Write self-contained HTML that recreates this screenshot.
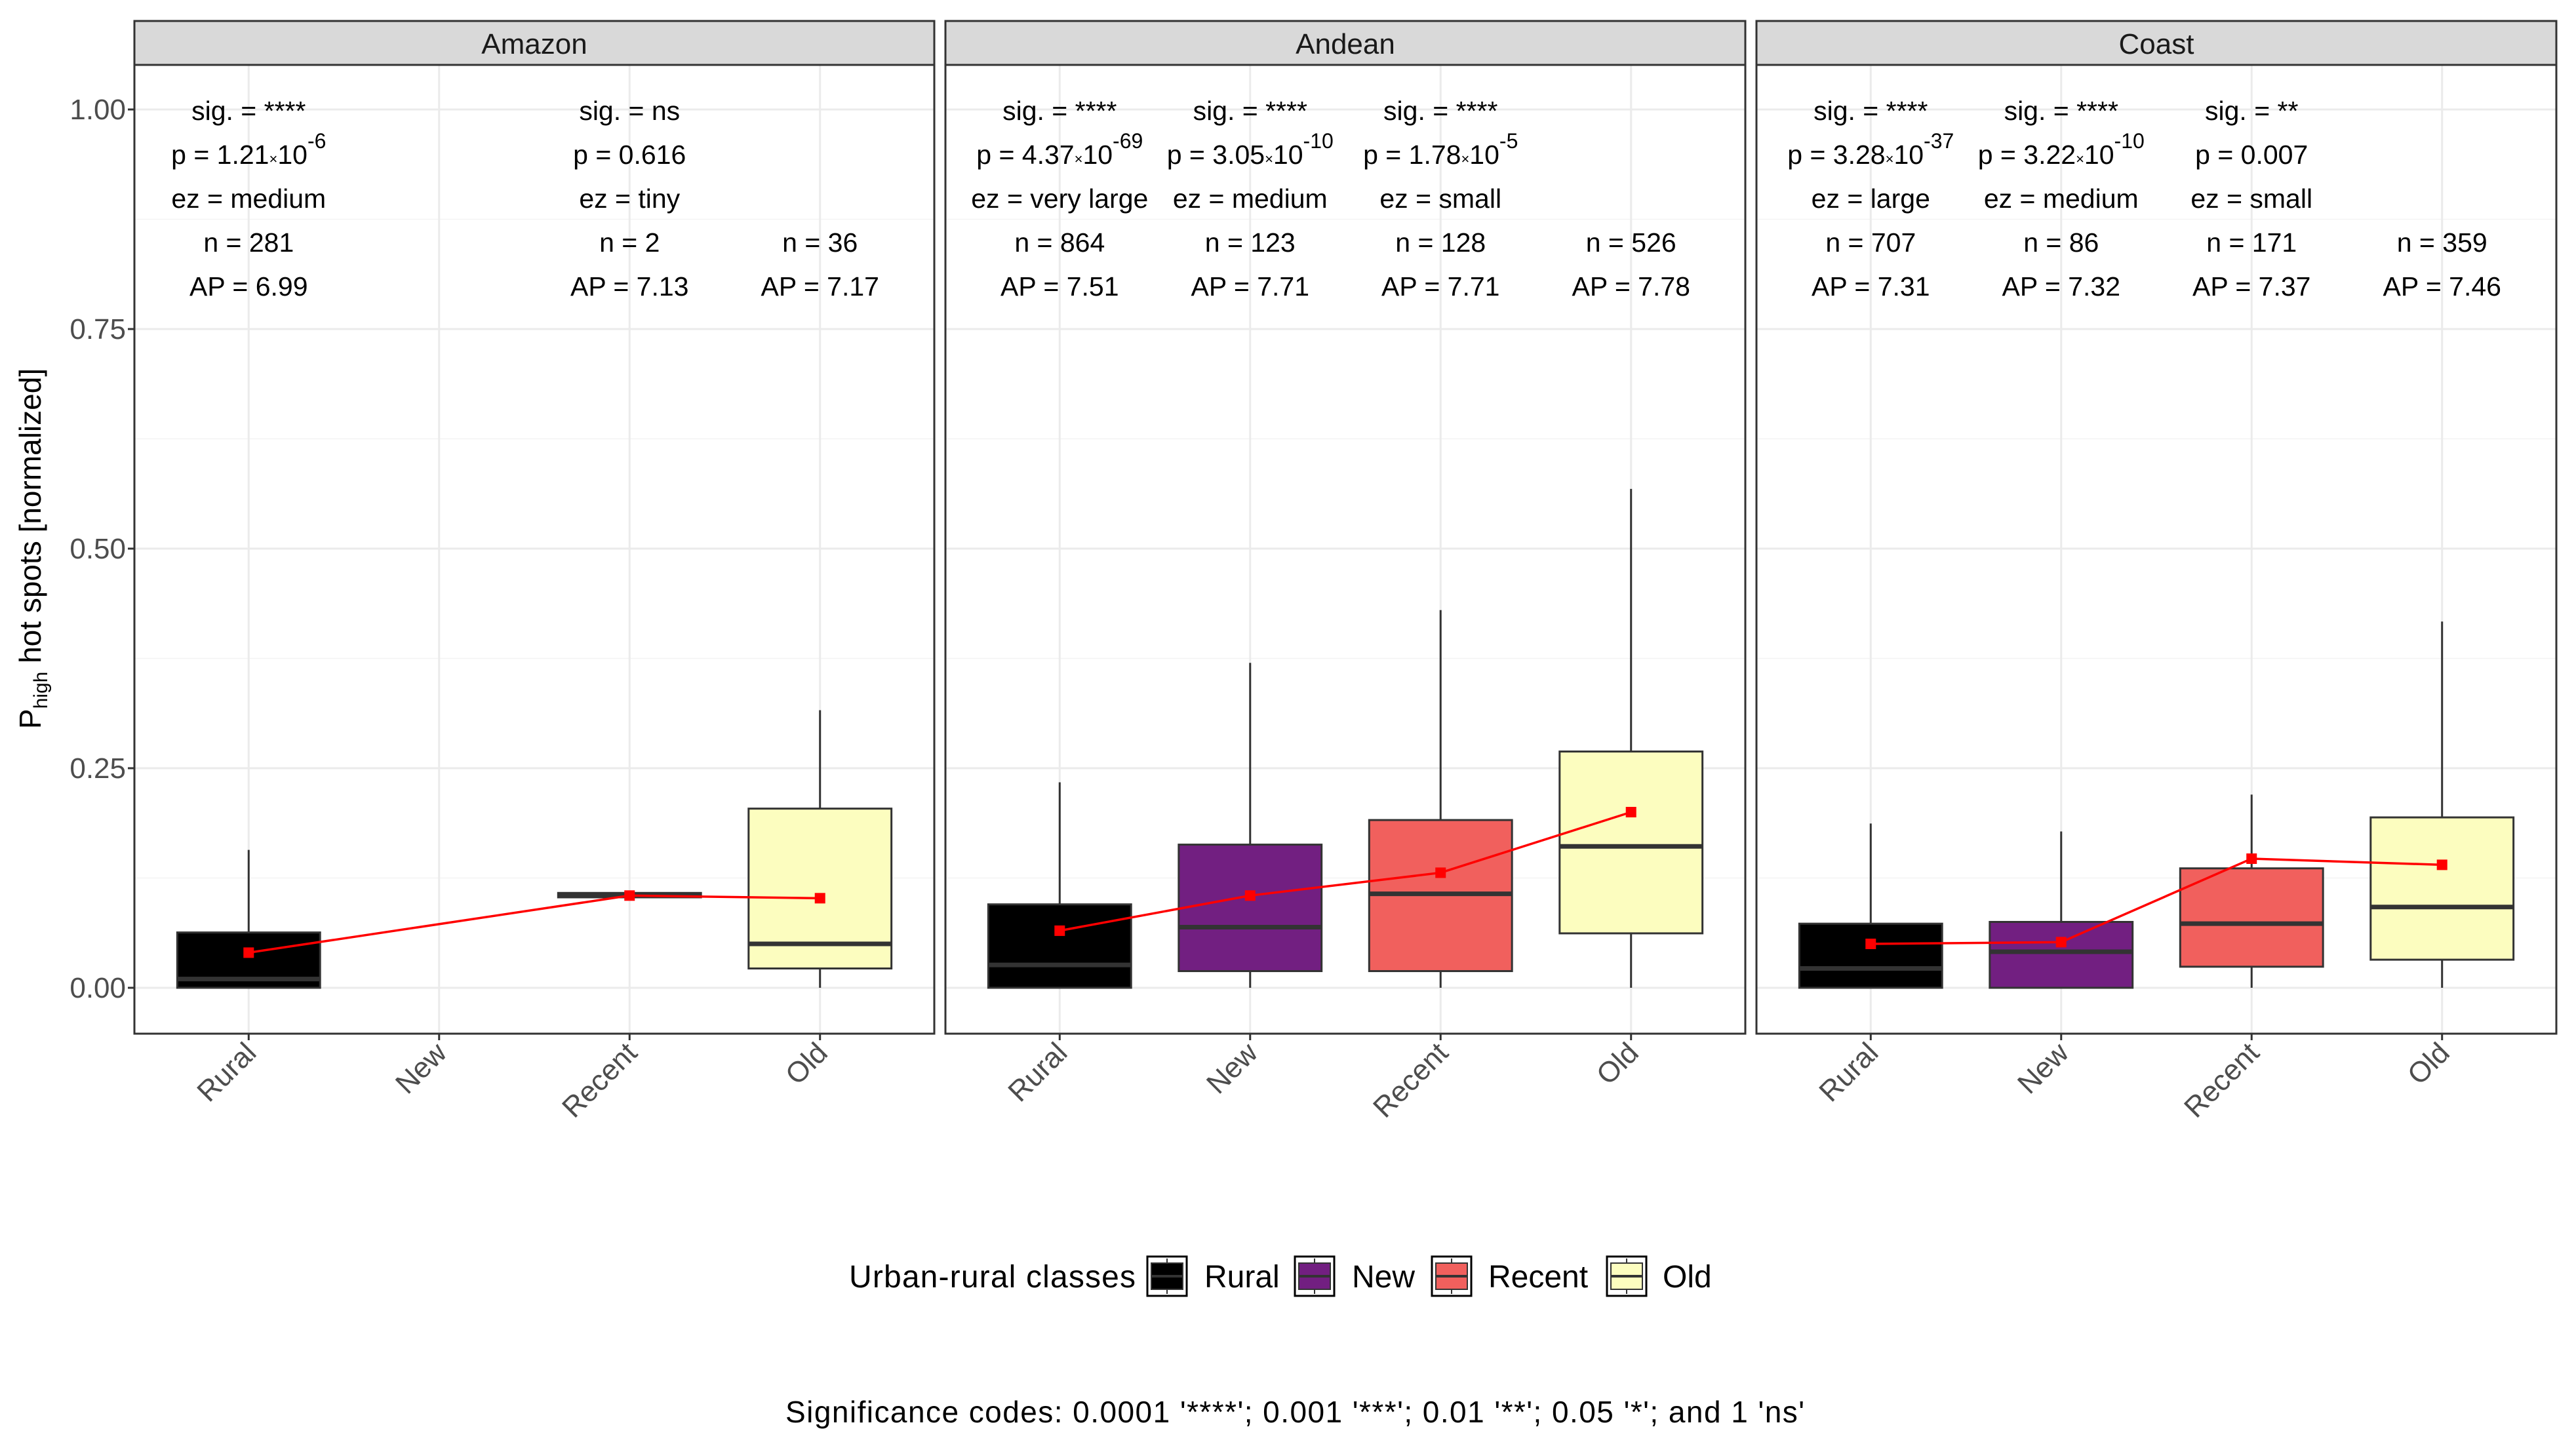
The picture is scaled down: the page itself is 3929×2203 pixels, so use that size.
<!DOCTYPE html>
<html><head><meta charset="utf-8"><style>
html,body{margin:0;padding:0;background:#fff}
svg{display:block;font-family:"Liberation Sans",Arial,sans-serif}
</style></head><body>
<svg id="chart" width="3929" height="2203" viewBox="0 0 3929 2203" xmlns="http://www.w3.org/2000/svg">
<g id="root"></g>
</svg>
<script>
const regions = ["Amazon","Andean","Coast"];
const categories = ["Rural","New","Recent","Old"];
const colors = ["#000000","#721f81","#f1605d","#fcfdbf"];
const yTicks = [0,0.25,0.5,0.75,1.0];
const yTickLabels = ["0.00","0.25","0.50","0.75","1.00"];
// per region, per category: [whiskerLow, q1, median, q3, whiskerHigh, mean] (null = no data)
const amazonStats = [[0,0,0.01,0.063,0.157,0.040], null, [0.103,0.103,0.105,0.108,0.108,0.105], [0,0.022,0.050,0.204,0.316,0.102]];
const andeanStats = [[0,0,0.026,0.095,0.234,0.065],[0,0.019,0.069,0.163,0.37,0.105],[0,0.019,0.107,0.191,0.43,0.131],[0,0.062,0.161,0.269,0.568,0.200]];
const coastStats  = [[0,0,0.022,0.073,0.187,0.050],[0,0,0.041,0.075,0.178,0.052],[0,0.024,0.073,0.136,0.22,0.147],[0,0.032,0.092,0.194,0.417,0.140]];
const amazonSig = ["****",null,"ns",null];
const amazonP = [["1.21","-6"],null,["0.616",null],null];
const amazonEz = ["medium",null,"tiny",null];
const amazonN = ["281",null,"2","36"];
const amazonAP = ["6.99",null,"7.13","7.17"];
const andeanSig = ["****","****","****",null];
const andeanP = [["4.37","-69"],["3.05","-10"],["1.78","-5"],null];
const andeanEz = ["very large","medium","small",null];
const andeanN = ["864","123","128","526"];
const andeanAP = ["7.51","7.71","7.71","7.78"];
const coastSig = ["****","****","**",null];
const coastP = [["3.28","-37"],["3.22","-10"],["0.007",null],null];
const coastEz = ["large","medium","small",null];
const coastN = ["707","86","171","359"];
const coastAP = ["7.31","7.32","7.37","7.46"];

const stats=[amazonStats,andeanStats,coastStats];
const sigs=[amazonSig,andeanSig,coastSig], ps=[amazonP,andeanP,coastP], ezs=[amazonEz,andeanEz,coastEz], ns=[amazonN,andeanN,coastN], aps=[amazonAP,andeanAP,coastAP];

const SVGNS="http://www.w3.org/2000/svg";
const rootG=document.getElementById('root');
function mk(tag,attrs,parent,text){const e=document.createElementNS(SVGNS,tag);for(const k in attrs)e.setAttribute(k,attrs[k]);if(text!=null)e.textContent=text;(parent||rootG).appendChild(e);return e;}
const panelW=1220, gap=17, left0=205, pTop=99, pBottom=1577, stripTop=32;
const unit=panelW/4.2;
function px(p,i){return left0+p*(panelW+gap)+(0.6+i)*unit;}
function yS(v){return 1507-1340*v;}
const bw=0.75*unit;

yTicks.forEach((t,i)=>{
  const tl=mk('text',{x:192,y:yS(t)+15,'text-anchor':'end','font-size':44,fill:'#4d4d4d'},rootG,yTickLabels[i]);
  
  
  const tk=mk('line',{x1:195,x2:205,y1:yS(t),y2:yS(t),stroke:'#333',"stroke-width":3});
  
  
});
const yt=mk('text',{transform:'translate(62,837) rotate(-90)','text-anchor':'middle','font-size':46,fill:'#000'},rootG);


mk('tspan',{},yt,'P');
mk('tspan',{'font-size':30,dy:10},yt,'high');
mk('tspan',{dy:-10},yt,' hot spots [normalized]');

regions.forEach((r,p)=>{
  const L=left0+p*(panelW+gap);
  const pg=mk('g',{});
  
  
  mk('rect',{x:L,y:pTop,width:panelW,height:pBottom-pTop,fill:'#fff'},pg);
  [0.125,0.375,0.625,0.875].forEach(t=>mk('line',{x1:L,x2:L+panelW,y1:yS(t),y2:yS(t),stroke:'#f3f3f3','stroke-width':1.5},pg));
  yTicks.forEach(t=>mk('line',{x1:L,x2:L+panelW,y1:yS(t),y2:yS(t),stroke:'#ebebeb','stroke-width':3},pg));
  categories.forEach((c,i)=>mk('line',{x1:px(p,i),x2:px(p,i),y1:pTop,y2:pBottom,stroke:'#ebebeb','stroke-width':3},pg));
  const st=mk('rect',{x:L,y:stripTop,width:panelW,height:pTop-stripTop,fill:'#d9d9d9',stroke:'#333','stroke-width':3},pg);
  
  
  mk('text',{x:L+panelW/2,y:82,'text-anchor':'middle','font-size':44,fill:'#1a1a1a'},pg,r);
  stats[p].forEach((s,i)=>{
    if(!s)return;
    const x=px(p,i);
    const bg=mk('g',{},pg);
    
    
    mk('line',{x1:x,x2:x,y1:yS(s[0]),y2:yS(s[1]),stroke:'#333','stroke-width':3},bg);
    mk('line',{x1:x,x2:x,y1:yS(s[3]),y2:yS(s[4]),stroke:'#333','stroke-width':3},bg);
    mk('rect',{x:x-bw/2,y:yS(s[3]),width:bw,height:Math.max(yS(s[1])-yS(s[3]),1),fill:colors[i],stroke:'#333','stroke-width':3},bg);
    mk('line',{x1:x-bw/2,x2:x+bw/2,y1:yS(s[2]),y2:yS(s[2]),stroke:'#333','stroke-width':7},bg);
  });
  const pts=[];stats[p].forEach((s,i)=>{if(s)pts.push([px(p,i),yS(s[5])]);});
  const ml=mk('polyline',{points:pts.map(q=>q.join(',')).join(' '),fill:'none',stroke:'#ff0000','stroke-width':3.5},pg);
  
  
  pts.forEach(q=>{const m=mk('rect',{x:q[0]-8,y:q[1]-8,width:16,height:16,fill:'#ff0000'},pg);
    
    });
  const rows=[169,236,303,370,437];
  categories.forEach((c,i)=>{
    const x=px(p,i);
    const ag=mk('g',{'font-size':41,fill:'#000','text-anchor':'middle'},pg);
    
    
    if(sigs[p][i]!=null)mk('text',{x:x,y:rows[0]+14},ag,'sig. = '+sigs[p][i]);
    const pv=ps[p][i];
    if(pv){
      const t=mk('text',{x:x,y:rows[1]+14},ag);
      if(pv[1]){mk('tspan',{},t,'p = '+pv[0]);mk('tspan',{'font-size':22},t,'×');mk('tspan',{},t,'10');mk('tspan',{'font-size':32,dy:-24},t,pv[1]);}
      else t.textContent='p = '+pv[0];
    }
    if(ezs[p][i]!=null)mk('text',{x:x,y:rows[2]+14},ag,'ez = '+ezs[p][i]);
    if(ns[p][i]!=null)mk('text',{x:x,y:rows[3]+14},ag,'n = '+ns[p][i]);
    if(aps[p][i]!=null)mk('text',{x:x,y:rows[4]+14},ag,'AP = '+aps[p][i]);
  });
  mk('rect',{x:L,y:pTop,width:panelW,height:pBottom-pTop,fill:'none',stroke:'#333','stroke-width':3},pg);
  categories.forEach((c,i)=>{
    const x=px(p,i);
    mk('line',{x1:x,x2:x,y1:pBottom,y2:pBottom+10,stroke:'#333','stroke-width':3},pg);
    const xl=mk('text',{transform:`translate(${x+14},${pBottom+32}) rotate(-45)`,'text-anchor':'end','font-size':44,fill:'#4d4d4d'},pg,c);
    
    
  });
});

const lg=mk('g',{});


mk('text',{x:1295,y:1964,'font-size':48,fill:'#000',textLength:437},lg,'Urban-rural classes');
const keyX=[1750,1975,2184,2451], labX=[1837,2062,2270,2536];
categories.forEach((c,i)=>{
  const e=mk('g',{},lg);
  
  
  mk('rect',{x:keyX[i],y:1917,width:60,height:60,fill:'#fff',stroke:'#000','stroke-width':3},e);
  mk('line',{x1:keyX[i]+30,x2:keyX[i]+30,y1:1920,y2:1974,stroke:'#333','stroke-width':2},e);
  mk('rect',{x:keyX[i]+6,y:1927,width:48,height:40,fill:colors[i],stroke:'#333','stroke-width':2},e);
  mk('line',{x1:keyX[i]+6,x2:keyX[i]+54,y1:1947,y2:1947,stroke:'#333','stroke-width':4},e);
  mk('text',{x:labX[i],y:1964,'font-size':48,fill:'#000'},e,c);
});
const cap=mk('text',{x:1975,y:2170,'text-anchor':'middle','font-size':46,fill:'#000',textLength:1554},rootG,"Significance codes: 0.0001 '****'; 0.001 '***'; 0.01 '**'; 0.05 '*'; and 1 'ns'");


</script>
</body></html>
